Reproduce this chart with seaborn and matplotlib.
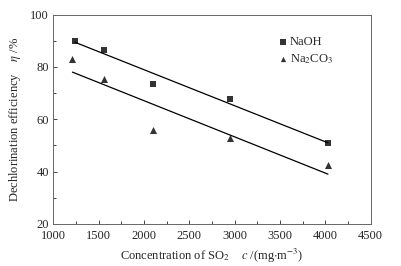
import numpy as np
import pandas as pd
import matplotlib
matplotlib.use("Agg")
import matplotlib.pyplot as plt
from matplotlib.ticker import MultipleLocator
import seaborn as sns

# SO2 concentration (mg/m3) and dechlorination efficiency (%)
naoh_x = [1240, 1560, 2100, 2944, 4030]
naoh_y = [90.1, 86.6, 73.6, 67.7, 51.0]
na2co3_x = [1211, 1559, 2103, 2948, 4030]
na2co3_y = [83.2, 75.4, 55.9, 53.0, 42.5]

sns.set_style("ticks")
plt.rcParams['font.family'] = ['Liberation Serif', 'DejaVu Serif']
plt.rcParams['mathtext.fontset'] = 'stix'
plt.rcParams['xtick.direction'] = 'in'
plt.rcParams['ytick.direction'] = 'in'

fig = plt.figure(figsize=(4.01, 2.66), dpi=100)
ax = fig.add_axes([0.133, 0.158, 0.791, 0.787])

sns.regplot(x=naoh_x, y=naoh_y, ax=ax, ci=None, color='black', marker='s',
            scatter_kws={'s': 24, 'linewidths': 0}, line_kws={'lw': 0.9},
            label='NaOH')
sns.regplot(x=na2co3_x, y=na2co3_y, ax=ax, ci=None, color='black', marker='^',
            scatter_kws={'s': 26, 'linewidths': 0}, line_kws={'lw': 0.9},
            label='Na$_2$CO$_3$')

ax.set_xlim(1000, 4500)
ax.set_ylim(20, 100)
ax.xaxis.set_major_locator(MultipleLocator(500))
ax.xaxis.set_minor_locator(MultipleLocator(250))
ax.yaxis.set_major_locator(MultipleLocator(20))
ax.yaxis.set_minor_locator(MultipleLocator(10))
ax.tick_params(which='major', length=3, width=0.6, labelsize=9, pad=3)
ax.tick_params(axis='x', which='major', pad=4)
ax.tick_params(which='minor', length=2, width=0.6)
for s in ax.spines.values():
    s.set_linewidth(0.7)
    s.set_color('#666666')

ax.set_xlabel('Concentration of SO$_2$    $c$ /(mg$\\cdot$m$^{-3}$)', fontsize=9, labelpad=4)
ax.set_ylabel('Dechlorination efficiency    $\\eta$ /%', fontsize=9, labelpad=5)

handles, labels = ax.get_legend_handles_labels()
sc = [h for h in handles if isinstance(h, matplotlib.collections.PathCollection)]
ax.legend(sc, ['NaOH', 'Na$_2$CO$_3$'], loc='upper left', bbox_to_anchor=(0.69, 0.92),
          frameon=False, fontsize=9, handletextpad=0.0, labelspacing=0.3,
          handlelength=1.0, markerscale=0.75, borderaxespad=0)

fig.savefig('out.png', dpi=100)
